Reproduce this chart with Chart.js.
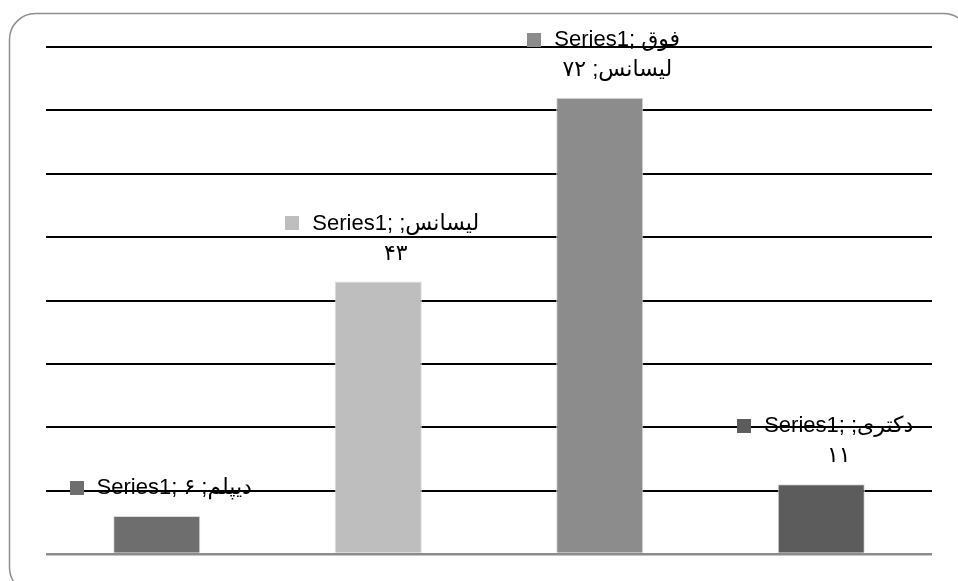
<!DOCTYPE html>
<html>
<head>
<meta charset="utf-8">
<script src="https://cdn.jsdelivr.net/npm/chart.js@4/dist/chart.umd.min.js"></script>
<style>
html, body { margin: 0; padding: 0; background: #fff; }
</style>
</head>
<body>
<canvas id="grafica" width="958" height="581"></canvas>
<script>
// datos de la grafica
const categorias = ['دیپلم', 'لیسانس', 'فوق لیسانس', 'دکتری'];
const valores = [6, 43, 72, 11];
const nombreSerie = 'Series1';
const ticksY = [0, 10, 20, 30, 40, 50, 60, 70, 80];

const coloresBarras = ['#6e6e6e', '#bebebe', '#8c8c8c', '#5c5c5c'];
const fuente = '22px "Liberation Sans", "DejaVu Sans", sans-serif';

function aPersa(n) {
    return String(n).replace(/\d/g, d => '۰۱۲۳۴۵۶۷۸۹'[d]);
}

function partir(ctx, texto, maxAncho) {
    const palabras = texto.split(' ');
    const lineas = [];
    let actual = '';
    for (const p of palabras) {
        const prueba = actual ? actual + ' ' + p : p;
        if (actual && ctx.measureText(prueba).width > maxAncho) {
            lineas.push(actual);
            actual = p;
        } else {
            actual = prueba;
        }
    }
    lineas.push(actual);
    // el ; final se queda con el texto arabe
    return lineas.map((l, k) => (k < lineas.length - 1 && l.endsWith(';')) ? l + '\u200F' : l);
}

const marco = {
    id: 'marco',
    beforeDraw(chart) {
        const ctx = chart.ctx;
        ctx.save();
        ctx.strokeStyle = '#8f8f8f';
        ctx.lineWidth = 1.5;
        ctx.beginPath();
        ctx.roundRect(9.5, 13.5, 960, 580, 26);
        ctx.stroke();
        ctx.restore();
    }
};

const etiquetas = {
    id: 'etiquetas',
    afterDatasetsDraw(chart) {
        const ctx = chart.ctx;
        const meta = chart.getDatasetMeta(0);
        ctx.save();
        ctx.font = fuente;
        ctx.direction = 'ltr';
        ctx.textBaseline = 'middle';
        ctx.textAlign = 'center';
        meta.data.forEach((barra, i) => {
            const texto = nombreSerie + '; ' + categorias[i] + '; ' + aPersa(valores[i]);
            const lineas = partir(ctx, texto, 169);
            const anchoCol = Math.max(...lineas.map(l => ctx.measureText(l).width));
            const bloque = 14 + 13 + anchoCol;
            const izq = barra.x + 4 - bloque / 2;
            const colX = izq + 27 + anchoCol / 2;
            const y0 = barra.y - 28 - (lineas.length - 1) * 30;
            ctx.fillStyle = coloresBarras[i];
            ctx.fillRect(Math.round(izq), Math.round(y0 - 7), 14, 14);
            ctx.fillStyle = '#000';
            lineas.forEach((l, k) => ctx.fillText(l, colX, y0 + k * 30));
        });
        ctx.restore();
    }
};

new Chart(document.getElementById('grafica'), {
    type: 'bar',
    data: {
        labels: categorias,
        datasets: [{
            label: nombreSerie,
            data: valores,
            backgroundColor: coloresBarras,
            borderColor: '#dcdcdc',
            borderWidth: 1,
            categoryPercentage: 1,
            barPercentage: 0.393
        }]
    },
    options: {
        responsive: false,
        animation: false,
        devicePixelRatio: 1,
        layout: { padding: { left: 46, right: 26, top: 47, bottom: 27 } },
        plugins: {
            legend: { display: false },
            tooltip: { enabled: false }
        },
        scales: {
            x: {
                grid: { display: false, drawTicks: false },
                border: { display: false },
                ticks: { display: false }
            },
            y: {
                min: ticksY[0],
                max: ticksY[ticksY.length - 1],
                afterBuildTicks: axis => { axis.ticks = ticksY.map(v => ({ value: v })); },
                grid: {
                    drawTicks: false,
                    color: c => c.tick.value === 0 ? '#8c8c8c' : '#000',
                    lineWidth: c => c.tick.value === 0 ? 2.5 : 2
                },
                border: { display: false },
                ticks: { display: false }
            }
        }
    },
    plugins: [marco, etiquetas]
});
</script>
</body>
</html>
